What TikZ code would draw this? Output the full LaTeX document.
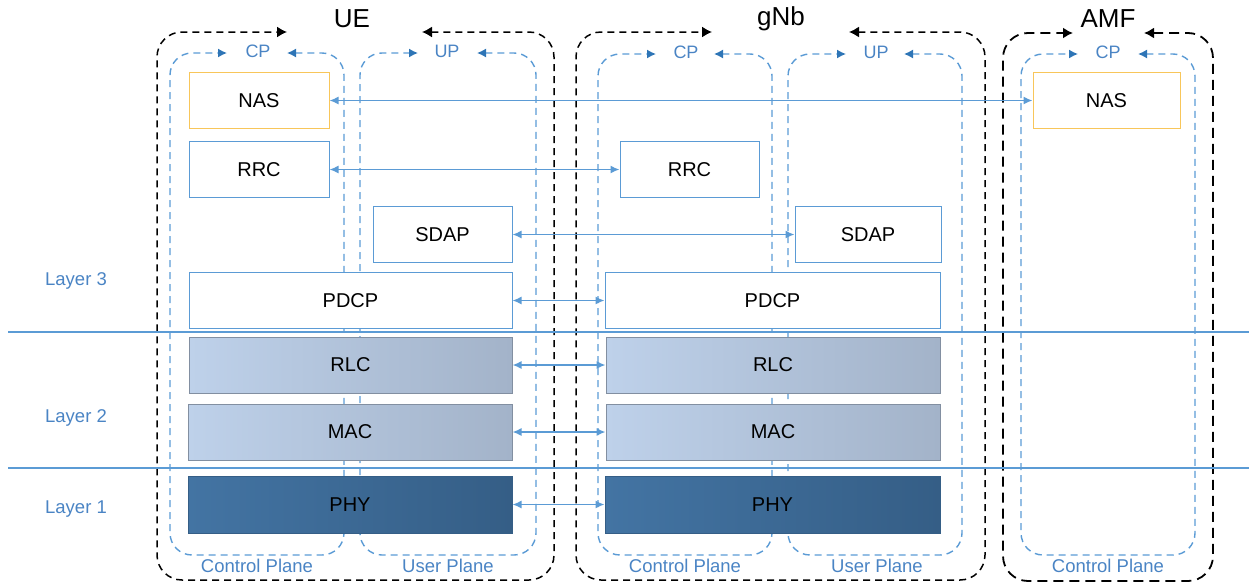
\documentclass[tikz,border=0pt]{standalone}
\usepackage{fontspec}
\setmainfont{Liberation Sans}
\usetikzlibrary{arrows.meta}
\definecolor{lineblue}{HTML}{5B9BD5}
\definecolor{tipblue}{HTML}{2E75B6}
\definecolor{txtblue}{HTML}{4A84C4}
\definecolor{nasorange}{HTML}{F8C65A}
\definecolor{ltwolight}{HTML}{BED1EA}
\definecolor{ltwodark}{HTML}{A3B3C9}
\definecolor{phylight}{HTML}{4374A3}
\definecolor{phydark}{HTML}{355E86}

\begin{document}
\begin{tikzpicture}[x=1pt,y=-1pt,
  outerframe/.style={black, line width=1.5pt, dash pattern=on 7pt off 5pt,
    rounded corners=25pt, {Latex[length=10pt,width=11pt]}-{Latex[length=10pt,width=11pt]}},
  planeframe/.style={lineblue, line width=1.4pt, dash pattern=on 7pt off 5pt,
    rounded corners=22pt, {Latex[length=9pt,width=9pt,color=tipblue]}-{Latex[length=9pt,width=9pt,color=tipblue]}},
  title/.style={font=\fontsize{26}{29}\selectfont},
  planetag/.style={txtblue, font=\fontsize{18}{21}\selectfont},
  planename/.style={txtblue, font=\fontsize{18.5}{21}\selectfont},
  layername/.style={txtblue, font=\fontsize{18.5}{21}\selectfont},
  layerline/.style={lineblue, line width=1.5pt},
  box/.style={draw=lineblue, line width=1pt, fill=white, inner sep=0pt,
    minimum height=56pt, font=\fontsize{20}{23}\selectfont},
  nasbox/.style={box, draw=nasorange},
  ltwobox/.style={box, draw=ltwodark!80!black, left color=ltwolight, right color=ltwodark},
  phybox/.style={box, draw=phydark, left color=phylight, right color=phydark},
  link/.style={lineblue, line width=1.5pt, {Latex[length=9pt,width=8pt]}-{Latex[length=9pt,width=8pt]}}]

  \useasboundingbox (0,0) rectangle (1254,584);

  % frames: UE
  \draw[outerframe] (422,32) -| (554,580) -| (157,32) -- (287,32);
  \draw[planeframe] (287,53) -| (344,555) -| (170,53) -- (227,53);
  \draw[planeframe] (477,53) -| (536,555) -| (360,53) -- (418,53);
  % frames: gNb
  \draw[outerframe] (849,32) -| (985,580) -| (576,32) -- (712,32);
  \draw[planeframe] (714,54) -| (772,555) -| (598,54) -- (656,54);
  \draw[planeframe] (904,54) -| (962,555) -| (788,54) -- (846,54);
  % frames: AMF
  \draw[outerframe, line width=1.8pt, dash pattern=on 10pt off 6pt] (1144,33) -| (1213,581) -| (1003,33) -- (1073,33);
  \draw[planeframe] (1138,54) -| (1195,555) -| (1021,54) -- (1078,54);

  \node[title] (ue) at (352,19) {UE};
  \node[title] (gnb) at (781,19) {gNb};
  \node[title] (amf) at (1108,19) {AMF};

  \node[planetag] (ue-cp) at (258,51) {CP};
  \node[planetag] (ue-up) at (447,51) {UP};
  \node[planetag] (gnb-cp) at (686,52) {CP};
  \node[planetag] (gnb-up) at (876,52) {UP};
  \node[planetag] (amf-cp) at (1108,52) {CP};

  \node[planename] (ue-cpname) at (257,566) {Control Plane};
  \node[planename] (ue-upname) at (448,566) {User Plane};
  \node[planename] (gnb-cpname) at (685,566) {Control Plane};
  \node[planename] (gnb-upname) at (877,566) {User Plane};
  \node[planename] (amf-cpname) at (1108,566) {Control Plane};

  % layers
  \draw[layerline] (8,332) -- (1249,332);
  \draw[layerline] (8,468) -- (1249,468);
  \node[layername] (layer3) at (76,281) {Layer 3};
  \node[layername] (layer2) at (76,418) {Layer 2};
  \node[layername] (layer1) at (76,509) {Layer 1};

  % UE stack
  \node[nasbox, minimum width=140pt] (ue-nas) at (259,100.5) {NAS};
  \node[box, minimum width=140pt] (ue-rrc) at (259,169.5) {RRC};
  \node[box, minimum width=139pt] (ue-sdap) at (442.5,234.5) {SDAP};
  \node[box, minimum width=323pt] (ue-pdcp) at (350.5,300.5) {PDCP};
  \node[ltwobox, minimum width=323pt] (ue-rlc) at (350.5,365) {RLC};
  \node[ltwobox, minimum width=324pt] (ue-mac) at (350,432) {MAC};
  \node[phybox, minimum width=324pt, minimum height=57pt] (ue-phy) at (350,504.5) {PHY};

  % gNb stack
  \node[box, minimum width=139pt] (gnb-rrc) at (689.5,169.5) {RRC};
  \node[box, minimum width=146pt] (gnb-sdap) at (868,234.5) {SDAP};
  \node[box, minimum width=335pt] (gnb-pdcp) at (772.5,300.5) {PDCP};
  \node[ltwobox, minimum width=334pt] (gnb-rlc) at (773,365) {RLC};
  \node[ltwobox, minimum width=334pt] (gnb-mac) at (773,432) {MAC};
  \node[phybox, minimum width=335pt, minimum height=57pt] (gnb-phy) at (772.5,504.5) {PHY};

  % AMF
  \node[nasbox, minimum width=147pt] (amf-nas) at (1106.5,100.5) {NAS};

  % peer links
  \draw[link] (ue-nas) -- (amf-nas);
  \draw[link] (ue-rrc) -- (gnb-rrc);
  \draw[link] (ue-sdap) -- (gnb-sdap);
  \draw[link] (ue-pdcp) -- (gnb-pdcp);
  \draw[link] (ue-rlc) -- (gnb-rlc);
  \draw[link] (ue-mac) -- (gnb-mac);
  \draw[link] (ue-phy) -- (gnb-phy);
\end{tikzpicture}
\end{document}
